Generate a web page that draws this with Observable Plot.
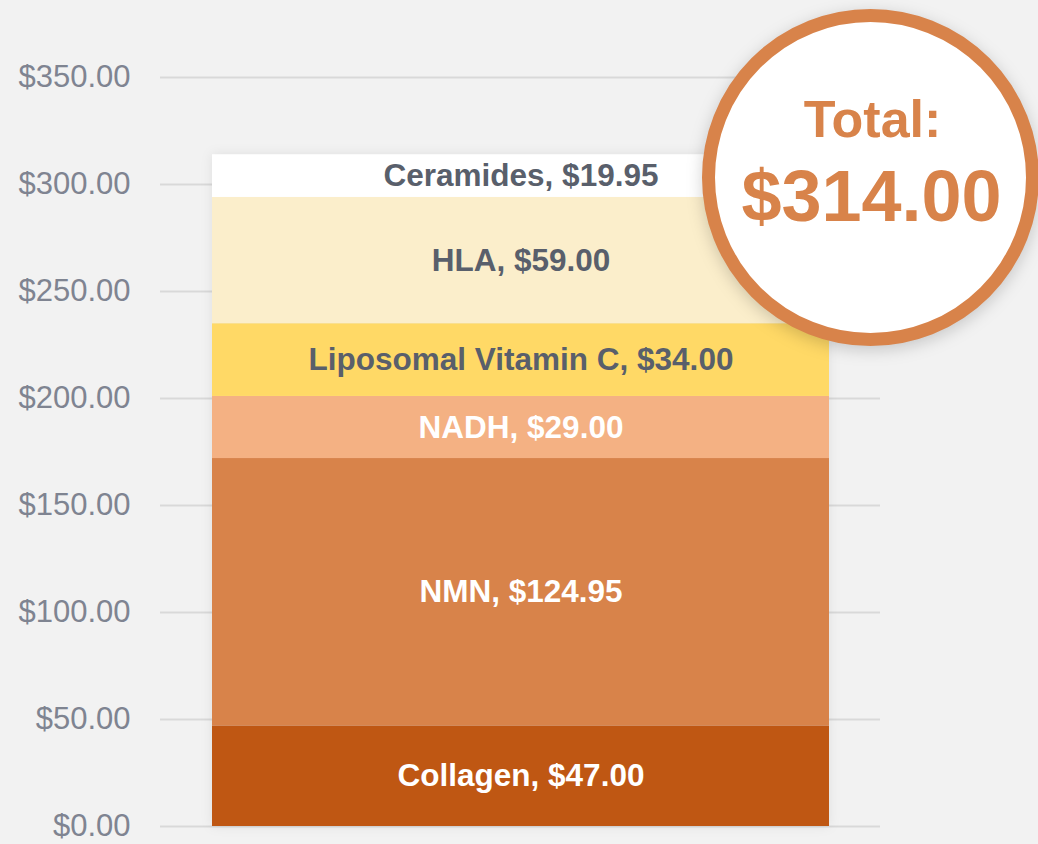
<!DOCTYPE html>
<html>
<head>
<meta charset="utf-8">
<script src="https://cdn.jsdelivr.net/npm/d3@7"></script>
<script src="https://cdn.jsdelivr.net/npm/@observablehq/plot@0.6"></script>
<style>
  html, body { margin: 0; padding: 0; background: #f2f2f2; }
  #chart svg { display: block; }
</style>
</head>
<body>
<div id="chart"></div>
<script>
const items = ["Collagen", "NMN", "NADH", "Liposomal Vitamin C", "HLA", "Ceramides"];
const prices = [47.00, 124.95, 29.00, 34.00, 59.00, 19.95];
const fills = ["#bf5713", "#d8834a", "#f4b183", "#ffd966", "#fbeecb", "#ffffff"];
const labelColors = ["#ffffff", "#ffffff", "#ffffff", "#595f6b", "#595f6b", "#595f6b"];
const yTicks = [0, 50, 100, 150, 200, 250, 300, 350];
const totalTitle = "Total:";
const totalLabel = "$314.00";

const money = v => "$" + d3.format(",.2f")(v);
const data = items.map((name, i) => ({
  group: "Cart", name, price: prices[i], fill: fills[i], labelColor: labelColors[i],
  label: `${name}, ${money(prices[i])}`
}));

const font = "'Liberation Sans', Arial, Helvetica, sans-serif";

const plot = Plot.plot({
  width: 1038,
  height: 844,
  marginTop: 77,
  marginBottom: 18,
  marginLeft: 160,
  marginRight: 158,
  style: { background: "#f2f2f2", fontFamily: font, overflow: "visible" },
  x: { type: "band", domain: ["Cart"], padding: 0.077, axis: null },
  y: { domain: [0, 350], ticks: yTicks, tickFormat: money, label: null, tickSize: 0, tickPadding: 30 },
  marks: [
    Plot.gridY(yTicks, { stroke: "#d9d9d9", strokeOpacity: 1, strokeWidth: 2 }),
    Plot.axisY(yTicks, { tickFormat: money, tickSize: 0, tickPadding: 30, fontSize: 31, fill: "#7f8491", label: null }),
    Plot.barY(data, Plot.stackY({ x: "group", y: "price", fill: d => d.fill, order: null })),
    Plot.text(data, Plot.stackY({ x: "group", y: "price", text: "label", fill: d => d.labelColor, order: null,
      fontSize: 31.5, fontWeight: "bold", stroke: null })),
    Plot.dot([totalLabel], { frameAnchor: "top-right", dx: -10, dy: 100, r: 162, fill: "#ffffff",
      stroke: "#d8834a", strokeWidth: 13 }),
    Plot.text([totalTitle], { frameAnchor: "top-right", textAnchor: "middle", lineAnchor: "middle", dx: -8, dy: 43,
      text: d => d, fill: "#d8834a", fontSize: 52, fontWeight: "bold" }),
    Plot.text([totalLabel], { frameAnchor: "top-right", textAnchor: "middle", lineAnchor: "middle", dx: -9, dy: 120,
      text: d => d, fill: "#d8834a", fontSize: 72, fontWeight: "bold" })
  ]
});

const svg = d3.select(plot);
svg.selectAll("g[aria-label='dot']").style("filter", "drop-shadow(0px 4px 8px rgba(0,0,0,0.18))");
svg.selectAll("g[aria-label='bar']").style("filter", "drop-shadow(0px 0px 6px rgba(0,0,0,0.08))");
document.getElementById("chart").appendChild(plot);
</script>
</body>
</html>
